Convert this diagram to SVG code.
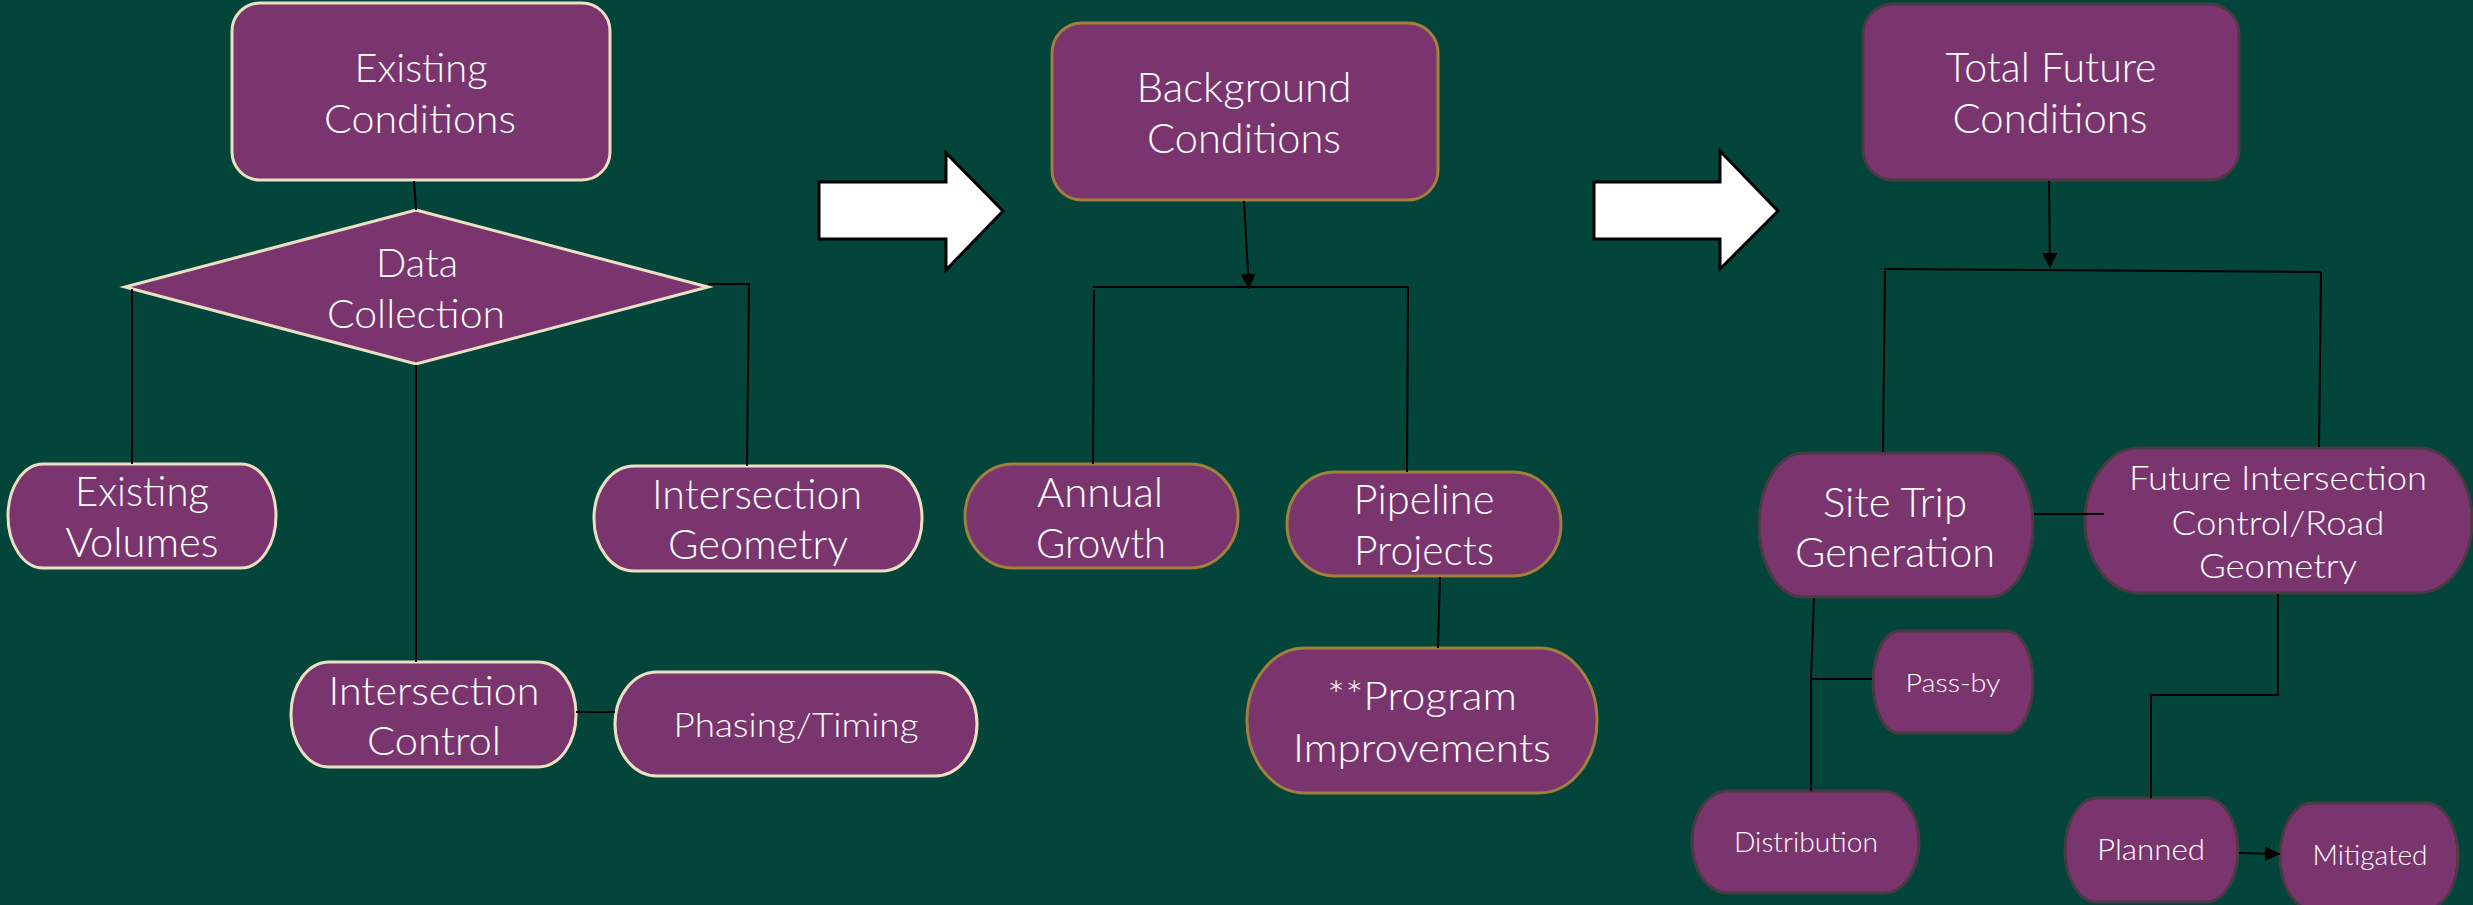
<svg xmlns="http://www.w3.org/2000/svg" width="2473" height="905" viewBox="0 0 2473 905">
<defs>
<marker id="ah" markerUnits="userSpaceOnUse" markerWidth="16" markerHeight="16" refX="15" refY="7.5" orient="auto">
<path d="M0,0 L15,7.5 L0,15 Z" fill="#000"/>
</marker>
</defs>
<style>
.n{fill:#7a356f;stroke-width:3}
.b{stroke:#ece0c4}
.g{stroke:#a0803c}
.d{stroke:#4a3a44}
.t{font-family:Lato,"Open Sans","Noto Sans",sans-serif;font-weight:300;fill:#ffffff;text-anchor:middle}
.c{fill:none;stroke:#000;stroke-width:2}
.ba{fill:#fff;stroke:#000;stroke-width:3}
</style>
<rect x="0" y="0" width="2473" height="905" fill="#03453a"/>

<g id="arrow1"><polygon class="ba" points="819,182 946,182 946,153 1003,211 946,270 946,239 819,239"/></g>
<g id="arrow2"><polygon class="ba" points="1594,182 1720,182 1720,151 1778,211 1720,269 1720,239 1594,239"/></g>

<g id="existing-conditions">
<rect class="n b" x="232" y="3" width="378" height="177" rx="28"/>
<text class="t" font-size="40"><tspan x="421" y="82" textLength="133" lengthAdjust="spacingAndGlyphs">Existing</tspan><tspan x="420" y="133" textLength="192" lengthAdjust="spacingAndGlyphs">Conditions</tspan></text>
</g>
<g id="data-collection">
<polygon class="n b" points="416,210 708,287 416,364 125,287"/>
<text class="t" font-size="40"><tspan x="417" y="277" textLength="82" lengthAdjust="spacingAndGlyphs">Data</tspan><tspan x="416" y="328" textLength="178" lengthAdjust="spacingAndGlyphs">Collection</tspan></text>
</g>
<g id="existing-volumes">
<rect class="n b" x="8" y="464" width="268" height="104" rx="35" ry="52"/>
<text class="t" font-size="41"><tspan x="142" y="506" textLength="134" lengthAdjust="spacingAndGlyphs">Existing</tspan><tspan x="142" y="557" textLength="153" lengthAdjust="spacingAndGlyphs">Volumes</tspan></text>
</g>
<g id="intersection-geometry">
<rect class="n b" x="594" y="466" width="328" height="105" rx="40" ry="52"/>
<text class="t" font-size="41"><tspan x="757" y="509" textLength="210" lengthAdjust="spacingAndGlyphs">Intersection</tspan><tspan x="758" y="559" textLength="180" lengthAdjust="spacingAndGlyphs">Geometry</tspan></text>
</g>
<g id="intersection-control">
<rect class="n b" x="291" y="662" width="285" height="105" rx="38" ry="52"/>
<text class="t" font-size="40"><tspan x="434" y="705" textLength="211" lengthAdjust="spacingAndGlyphs">Intersection</tspan><tspan x="434" y="755" textLength="134" lengthAdjust="spacingAndGlyphs">Control</tspan></text>
</g>
<g id="phasing-timing">
<rect class="n b" x="615" y="672" width="362" height="104" rx="42" ry="52"/>
<text class="t" font-size="34"><tspan x="796" y="737" textLength="245" lengthAdjust="spacingAndGlyphs">Phasing/Timing</tspan></text>
</g>

<g id="background-conditions">
<rect class="n g" x="1052" y="23" width="386" height="177" rx="30"/>
<text class="t" font-size="42"><tspan x="1244" y="102" textLength="215" lengthAdjust="spacingAndGlyphs">Background</tspan><tspan x="1244" y="153" textLength="194" lengthAdjust="spacingAndGlyphs">Conditions</tspan></text>
</g>
<g id="annual-growth">
<rect class="n g" x="965" y="464" width="273" height="104" rx="48" ry="52"/>
<text class="t" font-size="42"><tspan x="1100" y="507" textLength="126" lengthAdjust="spacingAndGlyphs">Annual</tspan><tspan x="1101" y="558" textLength="130" lengthAdjust="spacingAndGlyphs">Growth</tspan></text>
</g>
<g id="pipeline-projects">
<rect class="n g" x="1287" y="472" width="274" height="104" rx="48" ry="52"/>
<text class="t" font-size="42"><tspan x="1424" y="514" textLength="141" lengthAdjust="spacingAndGlyphs">Pipeline</tspan><tspan x="1424" y="565" textLength="140" lengthAdjust="spacingAndGlyphs">Projects</tspan></text>
</g>
<g id="program-improvements">
<rect class="n g" x="1247" y="648" width="350" height="145" rx="58" ry="72"/>
<text class="t" font-size="39"><tspan x="1422" y="710" textLength="190" lengthAdjust="spacingAndGlyphs">**Program</tspan><tspan x="1422" y="762" textLength="258" lengthAdjust="spacingAndGlyphs">Improvements</tspan></text>
</g>

<g id="total-future-conditions">
<rect class="n d" x="1863" y="4" width="376" height="176" rx="30"/>
<text class="t" font-size="41"><tspan x="2051" y="82" textLength="211" lengthAdjust="spacingAndGlyphs">Total Future</tspan><tspan x="2050" y="133" textLength="195" lengthAdjust="spacingAndGlyphs">Conditions</tspan></text>
</g>
<g id="site-trip-generation">
<rect class="n d" x="1759" y="453" width="274" height="144" rx="44" ry="72"/>
<text class="t" font-size="41"><tspan x="1895" y="517" textLength="144" lengthAdjust="spacingAndGlyphs">Site Trip</tspan><tspan x="1895" y="567" textLength="200" lengthAdjust="spacingAndGlyphs">Generation</tspan></text>
</g>
<g id="future-intersection">
<rect class="n d" x="2085" y="448" width="387" height="145" rx="54" ry="72"/>
<text class="t" font-size="34"><tspan x="2278" y="490" textLength="298" lengthAdjust="spacingAndGlyphs">Future Intersection</tspan><tspan x="2278" y="535" textLength="213" lengthAdjust="spacingAndGlyphs">Control/Road</tspan><tspan x="2278" y="578" textLength="158" lengthAdjust="spacingAndGlyphs">Geometry</tspan></text>
</g>
<g id="pass-by">
<rect class="n d" x="1873" y="631" width="160" height="102" rx="26" ry="51"/>
<text class="t" font-size="26"><tspan x="1953" y="692" textLength="95" lengthAdjust="spacingAndGlyphs">Pass-by</tspan></text>
</g>
<g id="distribution">
<rect class="n d" x="1692" y="791" width="227" height="102" rx="36" ry="51"/>
<text class="t" font-size="28"><tspan x="1806" y="852" textLength="144" lengthAdjust="spacingAndGlyphs">Distribution</tspan></text>
</g>
<g id="planned">
<rect class="n d" x="2065" y="798" width="173" height="104" rx="32" ry="52"/>
<text class="t" font-size="29"><tspan x="2151" y="860" textLength="108" lengthAdjust="spacingAndGlyphs">Planned</tspan></text>
</g>
<g id="mitigated">
<rect class="n d" x="2280" y="803" width="178" height="106" rx="32" ry="53"/>
<text class="t" font-size="27"><tspan x="2370" y="865" textLength="115" lengthAdjust="spacingAndGlyphs">Mitigated</tspan></text>
</g>

<g id="connectors">
<line class="c" x1="414" y1="181" x2="416" y2="210"/>
<line class="c" x1="132" y1="289" x2="132" y2="464"/>
<polyline class="c" points="708,284 749,284 747,466"/>
<line class="c" x1="416" y1="365" x2="416" y2="662"/>
<line class="c" x1="576" y1="712" x2="615" y2="712"/>
<line class="c" x1="1244" y1="201" x2="1249" y2="289" marker-end="url(#ah)"/>
<line class="c" x1="1093" y1="287" x2="1409" y2="287"/>
<line class="c" x1="1094" y1="290" x2="1093" y2="464"/>
<line class="c" x1="1408" y1="287" x2="1407" y2="472"/>
<line class="c" x1="1440" y1="577" x2="1438" y2="648"/>
<line class="c" x1="2049" y1="181" x2="2050" y2="268" marker-end="url(#ah)"/>
<line class="c" x1="1884" y1="269" x2="2321" y2="272"/>
<line class="c" x1="1885" y1="271" x2="1883" y2="452"/>
<line class="c" x1="2321" y1="272" x2="2319" y2="447"/>
<line class="c" x1="2034" y1="514" x2="2104" y2="514"/>
<polyline class="c" points="1814,598 1811,679 1811,791"/>
<line class="c" x1="1811" y1="679" x2="1872" y2="679"/>
<polyline class="c" points="2278,594 2278,695 2151,695 2151,798"/>
<line class="c" x1="2239" y1="853" x2="2280" y2="854" marker-end="url(#ah)"/>
</g>
</svg>
